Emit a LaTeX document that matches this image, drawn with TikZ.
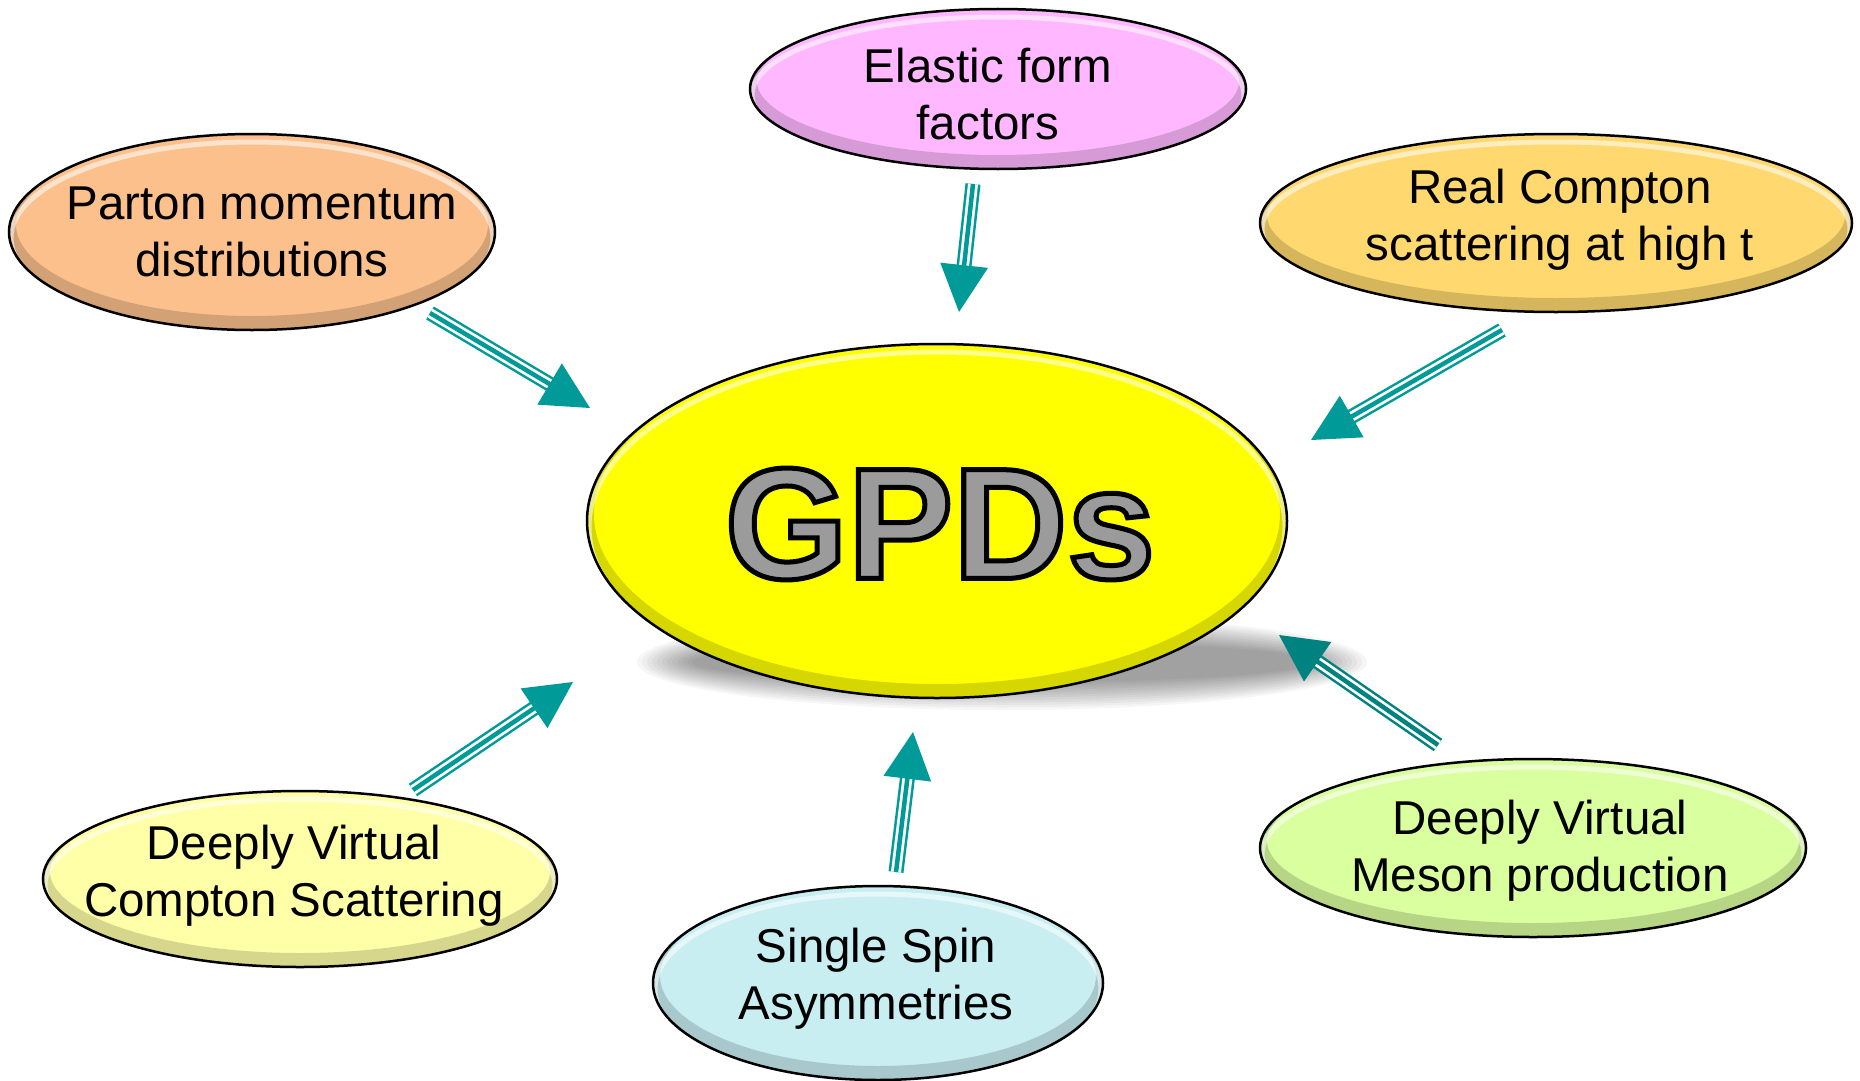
\documentclass[tikz,border=0pt]{standalone}
\usepackage{fontspec}
\setmainfont{Liberation Sans}
\usetikzlibrary{calc,shapes.geometric}
\definecolor{tealA}{HTML}{009A98}
\definecolor{tealB}{HTML}{008380}
\definecolor{cPeach}{HTML}{FBC08C}
\definecolor{cPink}{HTML}{FFB8FF}
\definecolor{cGold}{HTML}{FFD86F}
\definecolor{cPale}{HTML}{FFFFA8}
\definecolor{cCyan}{HTML}{C8EEF2}
\definecolor{cGreen}{HTML}{D9FF9F}
\definecolor{cYellow}{HTML}{FFFF00}
\definecolor{cGrey}{HTML}{9B9B9B}

\newcommand\bubble[6]{% name, cx, cy, rx, ry, colour
  \node[bubblenode, minimum width={2*#4}, minimum height={2*#5}, fill=#6] (#1) at (#2,#3) {};
  \begin{scope}
    \clip (#2,#3) ellipse [x radius=#4, y radius=#5];
    \draw[#6!55!black, opacity=0.35, line width=14] (#2,{#3-7}) ellipse [x radius=#4, y radius=#5];
    \draw[white, opacity=0.55, line width=5] (#2,{#3+6}) ellipse [x radius={#4-2}, y radius={#5-2}];
  \end{scope}
  \draw[black, line width=2.5] (#2,#3) ellipse [x radius=#4, y radius=#5];
}
\newcommand\garrow[3]{% start coordinate, tip coordinate, colour
  \coordinate (#2-base) at ($(#2)!47pt!(#1)$);
  \coordinate (#2-end) at ($(#2)!38pt!(#1)$);
  \draw[#3, line width=15] (#1) -- (#2-end);
  \draw[white, line width=10] (#1) -- (#2-end);
  \draw[#3, line width=4.5] (#1) -- (#2-end);
  \fill[#3] (#2) -- ($(#2-base)!24pt!90:(#2)$) -- ($(#2-base)!24pt!-90:(#2)$) -- cycle;
}

\begin{document}
\begin{tikzpicture}[x=1pt,y=-1pt,
  bubblenode/.style={ellipse, inner sep=0pt, outer sep=0pt},
  txt/.style={font=\fontsize{47.5}{57}\selectfont, align=center, inner sep=0pt, text=black},
  gpdtxt/.style={font=\fontsize{158}{190}\selectfont\bfseries, inner sep=0pt}]
\useasboundingbox (0,0) rectangle (1860,1081);
\fill[white] (0,0) rectangle (1860,1081);

% shadow below the central ellipse
\foreach \i in {0,...,11}
  \fill[black, opacity=0.035] (1002,662) ellipse [x radius={365-\i*5}, y radius={48-\i*2.5}];

% bubbles
\bubble{gpd}{937}{521}{350}{177}{cYellow}
\bubble{parton}{252}{232}{243}{98}{cPeach}
\bubble{elastic}{998}{89}{248}{80}{cPink}
\bubble{compton}{1556}{223}{296}{89}{cGold}
\bubble{dvcs}{300}{879}{257}{88}{cPale}
\bubble{ssa}{878}{983}{225}{97}{cCyan}
\bubble{dvmp}{1533}{848}{273}{89}{cGreen}

% arrows
\coordinate (a1s) at (430,313);  \coordinate (a1t) at (590,408);
\coordinate (a2s) at (973,184);  \coordinate (a2t) at (959,312);
\coordinate (a3s) at (1502,330); \coordinate (a3t) at (1311,440);
\coordinate (a4s) at (1438,745); \coordinate (a4t) at (1279,635);
\coordinate (a5s) at (896,872);  \coordinate (a5t) at (913,732);
\coordinate (a6s) at (413,790);  \coordinate (a6t) at (573,682);
\garrow{a1s}{a1t}{tealA}
\garrow{a2s}{a2t}{tealA}
\garrow{a3s}{a3t}{tealA}
\garrow{a4s}{a4t}{tealB}
\garrow{a5s}{a5t}{tealA}
\garrow{a6s}{a6t}{tealA}

% texts
\node[txt] (tparton) at (262,237) {Parton momentum\strut\\distributions\strut};
\node[txt] (telastic) at (988,100) {Elastic form\strut\\factors\strut};
\node[txt] (tcompton) at (1560,221) {Real Compton\strut\\scattering at high t\strut};
\node[txt] (tdvcs) at (294,877) {Deeply Virtual\strut\\Compton Scattering\strut};
\node[txt] (tssa) at (876,980) {Single Spin\strut\\Asymmetries\strut};
\node[txt] (tdvmp) at (1540,852) {Deeply Virtual\strut\\Meson production\strut};

% central label: grey letters, black outline (fill+stroke rendering mode)
\coordinate (gpdc) at (940,524);
\node[gpdtxt, text=cGrey] (gpdlabel) at (gpdc) {\special{pdf:code 0 0 0 RG 5 w 2 Tr}GPDs\special{pdf:code 0 Tr}};
\end{tikzpicture}
\end{document}
